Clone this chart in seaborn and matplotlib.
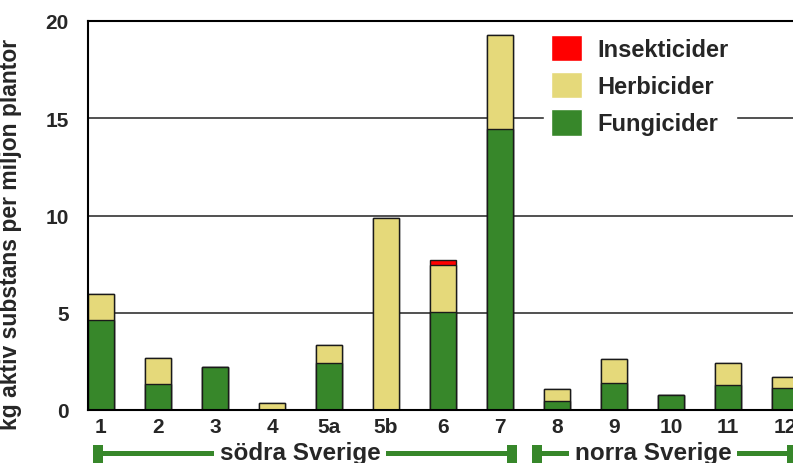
import matplotlib
matplotlib.use("Agg")
import matplotlib.pyplot as plt
from matplotlib.lines import Line2D
from matplotlib.patches import Patch
import numpy as np
import pandas as pd
import seaborn as sns

# values (kg active substance per million plants)
regions = ["1", "2", "3", "4", "5a", "5b", "6", "7", "8", "9", "10", "11", "12"]
fungicider = [4.63, 1.34, 2.20, 0.0, 2.42, 0.0, 5.02, 14.45, 0.46, 1.40, 0.75, 1.28, 1.12]
herbicider = [1.35, 1.32, 0.0, 0.36, 0.91, 9.85, 2.44, 4.83, 0.60, 1.24, 0.0, 1.12, 0.58]
insekticider = [0.0, 0.0, 0.0, 0.0, 0.0, 0.0, 0.25, 0.0, 0.0, 0.0, 0.0, 0.0, 0.0]

c_fung = "#37872a"
c_herb = "#e5d97a"
c_ins = "#ff0000"

df = pd.DataFrame(
    {
        "region": regions,
        "fung": fungicider,
        "herb": herbicider,
        "ins": insekticider,
    }
)
df["fung_herb"] = df["fung"] + df["herb"]
df["total"] = df["fung_herb"] + df["ins"]

sns.set_style("white")
plt.rcParams["font.family"] = ["Liberation Sans", "DejaVu Sans"]
plt.rcParams["font.weight"] = "bold"

W, H = 793, 464
fig = plt.figure(figsize=(W / 100, H / 100), dpi=100)
ax = fig.add_axes([88 / W, 1 - 411 / H, (810 - 88) / W, (411 - 22) / H])

bar_w = 0.47
for col, color in [("total", c_ins), ("fung_herb", c_herb), ("fung", c_fung)]:
    sns.barplot(
        data=df,
        x="region",
        y=col,
        order=regions,
        color=color,
        width=bar_w,
        edgecolor="#1a1a1a",
        linewidth=1,
        saturation=1,
        ax=ax,
        zorder=2,
    )

ax.set_xlim(-0.228, 12.44)
ax.set_ylim(0, 20)
ax.set_yticks([0, 5, 10, 15, 20])
ax.yaxis.grid(True, color="#333333", linewidth=1.2, zorder=0)
ax.set_axisbelow(True)
ax.tick_params(axis="both", length=0, labelsize=15)
ax.tick_params(axis="y", pad=14)
ax.tick_params(axis="x", pad=5)
for lab in ax.get_xticklabels() + ax.get_yticklabels():
    lab.set_fontweight("bold")
ax.set_xlabel("")
ax.set_ylabel("kg aktiv substans per miljon plantor", fontsize=16.5,
              fontweight="bold")
ax.yaxis.set_label_coords(-(88 - 22) / (810 - 88), 0.455)
for side in ["top", "left", "bottom"]:
    ax.spines[side].set_color("black")
    ax.spines[side].set_linewidth(1.5)
ax.spines["right"].set_visible(False)

handles = [
    Patch(facecolor=c_ins, edgecolor="white", label="Insekticider"),
    Patch(facecolor=c_herb, edgecolor="white", label="Herbicider"),
    Patch(facecolor=c_fung, edgecolor="white", label="Fungicider"),
]
leg = ax.legend(
    handles=handles,
    loc="upper left",
    bbox_to_anchor=((552 - 20) / W, 1 - (35 - 18) / H),
    bbox_transform=fig.transFigure,
    prop={"weight": "bold", "size": 17},
    handlelength=1.33,
    handleheight=1.33,
    handletextpad=0.65,
    labelspacing=0.47,
    borderpad=0.3,
    frameon=True,
    fancybox=False,
    framealpha=1,
    edgecolor="white",
)
leg.set_zorder(5)

# region brackets under the x axis
green = c_fung
y_line = 1 - 454 / H


def bracket(x0, x1, xtext, label):
    fig.add_artist(Line2D([x0 / W, x1 / W], [y_line, y_line], color=green,
                          linewidth=3.6, solid_capstyle="butt"))
    for xc in (x0, x1):
        fig.add_artist(Line2D([xc / W, xc / W], [1 - 446 / H, 0], color=green,
                              linewidth=7.2, solid_capstyle="butt"))
    fig.text(xtext / W, y_line, label, ha="center", va="center", fontsize=17.5,
             fontweight="bold",
             bbox=dict(facecolor="white", edgecolor="none", pad=4))


bracket(98, 512, 300, "södra Sverige")
bracket(537, 792, 653, "norra Sverige")

fig.savefig("out.png", dpi=100)
